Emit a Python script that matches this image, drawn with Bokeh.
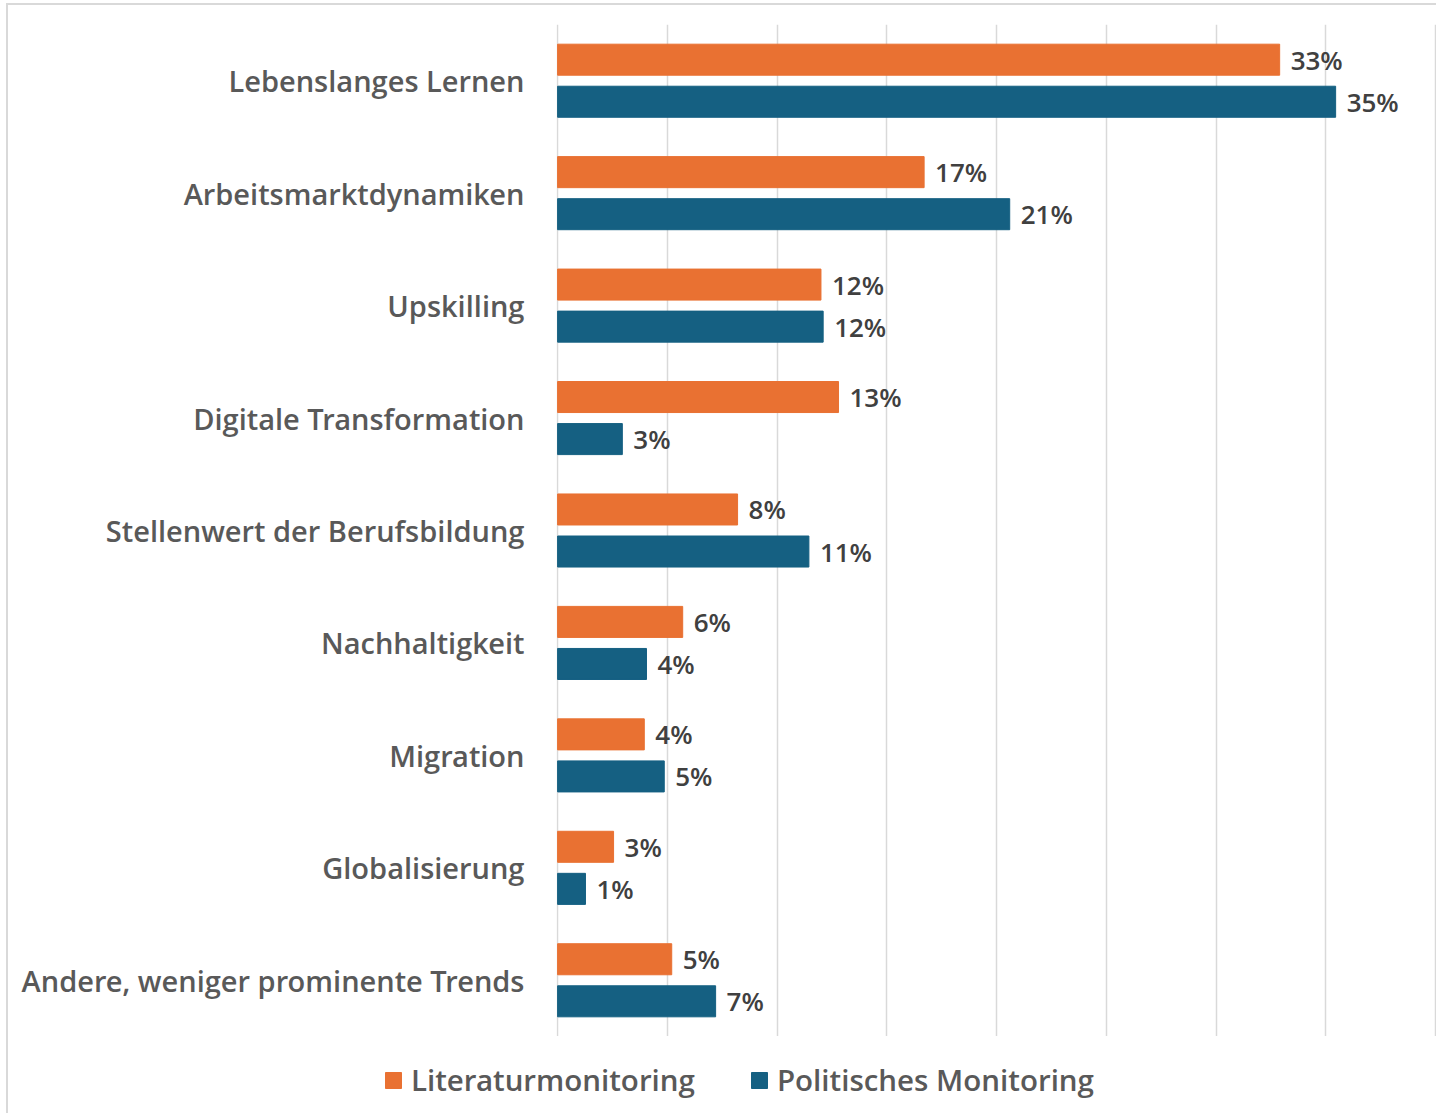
from bokeh.plotting import figure
from bokeh.layouts import column
from bokeh.models import (ColumnDataSource, FactorRange, Range1d, Legend, LegendItem,
                          SingleIntervalTicker)
from bokeh.transform import dodge
from bokeh.core.properties import value
from bokeh.embed import file_html
from bokeh.resources import INLINE

categories = ["Lebenslanges Lernen", "Arbeitsmarktdynamiken", "Upskilling",
              "Digitale Transformation", "Stellenwert der Berufsbildung",
              "Nachhaltigkeit", "Migration", "Globalisierung",
              "Andere, weniger prominente Trends"]
literatur = [32.9, 16.7, 12.0, 12.8, 8.2, 5.7, 3.95, 2.55, 5.2]
politisch = [35.45, 20.6, 12.1, 2.95, 11.45, 4.05, 4.86, 1.27, 7.2]
literatur_labels = ["33%", "17%", "12%", "13%", "8%", "6%", "4%", "3%", "5%"]
politisch_labels = ["35%", "21%", "12%", "3%", "11%", "4%", "5%", "1%", "7%"]
series_names = ["Literaturmonitoring", "Politisches Monitoring"]
colors = ["#E97132", "#156082"]

FONT = "Open Sans SemiBold"

src = ColumnDataSource(dict(cat=categories, lit=literatur, pol=politisch,
                            litl=literatur_labels, poll=politisch_labels))

W = 1428
H_MAIN = 1031
H_LEG = 77
x0 = -0.05
scale = (1435 - 557.1) / 40.0
p = figure(width=W, height=H_MAIN, output_backend="svg", toolbar_location=None,
           y_range=FactorRange(factors=list(reversed(categories))),
           x_range=Range1d(x0, x0 + 880 / scale),
           min_border_left=548, min_border_right=0, min_border_top=19,
           min_border_bottom=0)
p.outline_line_color = None
p.background_fill_color = "white"
p.border_fill_color = "white"

p.xgrid.grid_line_color = "#d9d9d9"
p.xgrid.grid_line_width = 1.5
p.ygrid.grid_line_color = None
p.xgrid.ticker = SingleIntervalTicker(interval=5)
p.xaxis.visible = False

p.yaxis.axis_line_color = None
p.yaxis.major_tick_line_color = None
p.yaxis.minor_tick_line_color = None
p.yaxis.major_tick_out = 0
p.yaxis.major_tick_in = 0
p.yaxis.major_label_text_font = FONT
p.yaxis.major_label_text_font_size = "29px"
p.yaxis.major_label_text_color = "#595959"
p.yaxis.major_label_standoff = 32

off = 0.187
bh = 0.276
r1 = p.hbar(y=dodge("cat", off, range=p.y_range), right="lit", left=0, height=bh,
            color=colors[0], source=src)
r2 = p.hbar(y=dodge("cat", -off, range=p.y_range), right="pol", left=0, height=bh,
            color=colors[1], source=src)

for xcol, lcol, o in (("lit", "litl", off), ("pol", "poll", -off)):
    p.text(x=xcol, y=dodge("cat", o, range=p.y_range), text=lcol, source=src,
           x_offset=11, text_baseline="middle", text_align="left",
           text_font=value(FONT), text_font_size="26px", text_color="#404040")

# legend strip below the plot
q = figure(width=W, height=H_LEG, output_backend="svg", toolbar_location=None,
           x_range=Range1d(0, 1), y_range=Range1d(0, 1),
           min_border_left=0, min_border_right=0, min_border_top=0,
           min_border_bottom=0)
q.frame_align = False
q.axis.visible = False
q.grid.visible = False
q.outline_line_color = None
q.background_fill_color = "white"
q.border_fill_color = "white"
# dummy renderers (kept outside the visible range) that only supply legend swatches
lr1 = q.hbar(y=[-5], left=[0], right=[0.001], height=0.1, color=colors[0])
lr2 = q.hbar(y=[-5], left=[0], right=[0.001], height=0.1, color=colors[1])

legend = Legend(items=[LegendItem(label=series_names[0], renderers=[lr1]),
                       LegendItem(label=series_names[1], renderers=[lr2])],
                location=(375, 13), orientation="horizontal")
legend.padding = 0
legend.margin = 0
legend.border_line_color = None
legend.background_fill_alpha = 0
legend.glyph_width = 20
legend.glyph_height = 20
legend.label_height = 38
legend.label_standoff = 8
legend.spacing = 54
legend.label_text_font = FONT
legend.label_text_font_size = "29.5px"
legend.label_text_color = "#595959"
q.add_layout(legend, "center")

layout = column(p, q, spacing=0)
layout.margin = (3, 0, 0, 6)
layout.styles = {"border-top": "2px solid #d9d9d9", "border-left": "2px solid #d9d9d9"}

open("out.html", "w").write(file_html(layout, INLINE))
